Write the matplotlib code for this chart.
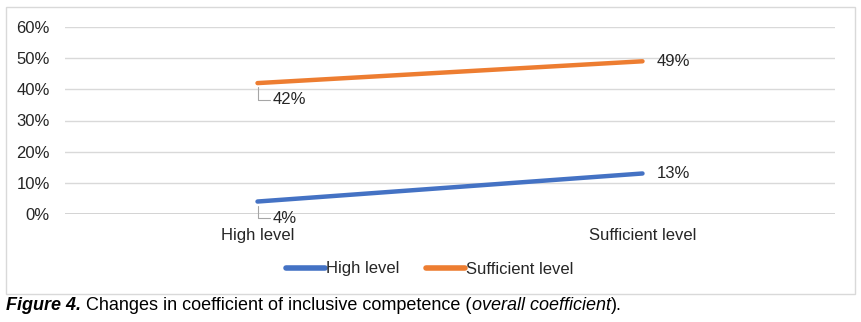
import matplotlib.pyplot as plt
import matplotlib.patheffects as pe
from matplotlib.patches import Rectangle
from matplotlib.ticker import PercentFormatter

plt.rcParams['font.family'] = ['Liberation Sans', 'DejaVu Sans']

categories = ['High level', 'Sufficient level']
high_level = [0.04, 0.13]
sufficient_level = [0.42, 0.49]
y_ticks = [0, 0.1, 0.2, 0.3, 0.4, 0.5, 0.6]

blue = '#4472C4'
orange = '#ED7D31'
text_col = '#262626'
fs = 12

fig = plt.figure(figsize=(8.61, 3.22), dpi=100)
ax = fig.add_axes([65 / 861, 1 - 214 / 322, 770 / 861, 187 / 322])

# outer chart border
fig.patches.append(Rectangle((6 / 861, 1 - 294 / 322), 849 / 861, 287 / 322,
                             transform=fig.transFigure, fill=False,
                             edgecolor='#d9d9d9', linewidth=1))

x = range(len(categories))
shadow = [pe.SimplePatchShadow(offset=(1.5, -2), shadow_rgbFace='#9a9a9a', alpha=0.4),
          pe.Normal()]
ax.plot(x, high_level, color=blue, lw=3.2, solid_capstyle='round',
        label='High level', path_effects=shadow, zorder=3)
ax.plot(x, sufficient_level, color=orange, lw=3.2, solid_capstyle='round',
        label='Sufficient level', path_effects=shadow, zorder=3)

# data labels
leader = dict(arrowstyle='-', color='#a6a6a6', lw=0.8,
              connectionstyle='angle,angleA=0,angleB=90,rad=0', shrinkA=0, shrinkB=3)
for series in (high_level, sufficient_level):
    ax.annotate(f'{series[0]:.0%}', xy=(0, series[0]), xytext=(11, -12),
                textcoords='offset points', ha='left', va='center',
                fontsize=fs, color=text_col, arrowprops=leader)
    ax.annotate(f'{series[1]:.0%}', xy=(1, series[1]), xytext=(10, 0),
                textcoords='offset points', ha='left', va='center',
                fontsize=fs, color=text_col)

ax.set_xlim(-0.5, 1.5)
ax.set_ylim(0, 0.6)
ax.set_yticks(y_ticks)
ax.yaxis.set_major_formatter(PercentFormatter(1.0, decimals=0))
ax.set_xticks(list(x))
ax.set_xticklabels(categories)
ax.tick_params(length=0, labelsize=fs, labelcolor=text_col)
ax.tick_params(axis='y', pad=11)
ax.tick_params(axis='x', pad=10)
ax.grid(axis='y', color='#d9d9d9', lw=1)
ax.set_axisbelow(True)
for s in ax.spines.values():
    s.set_visible(False)
ax.axhline(0, color='#d0d0d0', lw=2, zorder=1)

leg = fig.legend(loc='center', bbox_to_anchor=(430 / 861, 1 - 269 / 322), ncol=2,
                 frameon=False, fontsize=fs, handlelength=2.3, handletextpad=0.1,
                 columnspacing=1.6, labelcolor=text_col)
for h in leg.get_lines():
    h.set_linewidth(4)
    h.set_solid_capstyle('round')

# caption with mixed styles
pieces = [('Figure 4.', 'bold', 'italic'),
          (' Changes in coefficient of inclusive competence (', 'normal', 'normal'),
          ('overall coefficient', 'normal', 'italic'),
          (').', 'normal', 'normal')]
renderer = fig.canvas.get_renderer()
xpos = 6 / 861
for txt, weight, style in pieces:
    t = fig.text(xpos, 1 - 306 / 322, txt, fontsize=13, fontweight=weight,
                 fontstyle=style, va='center', ha='left', color='black')
    bb = t.get_window_extent(renderer)
    xpos += bb.width / fig.bbox.width

fig.savefig('out.png', dpi=100)
